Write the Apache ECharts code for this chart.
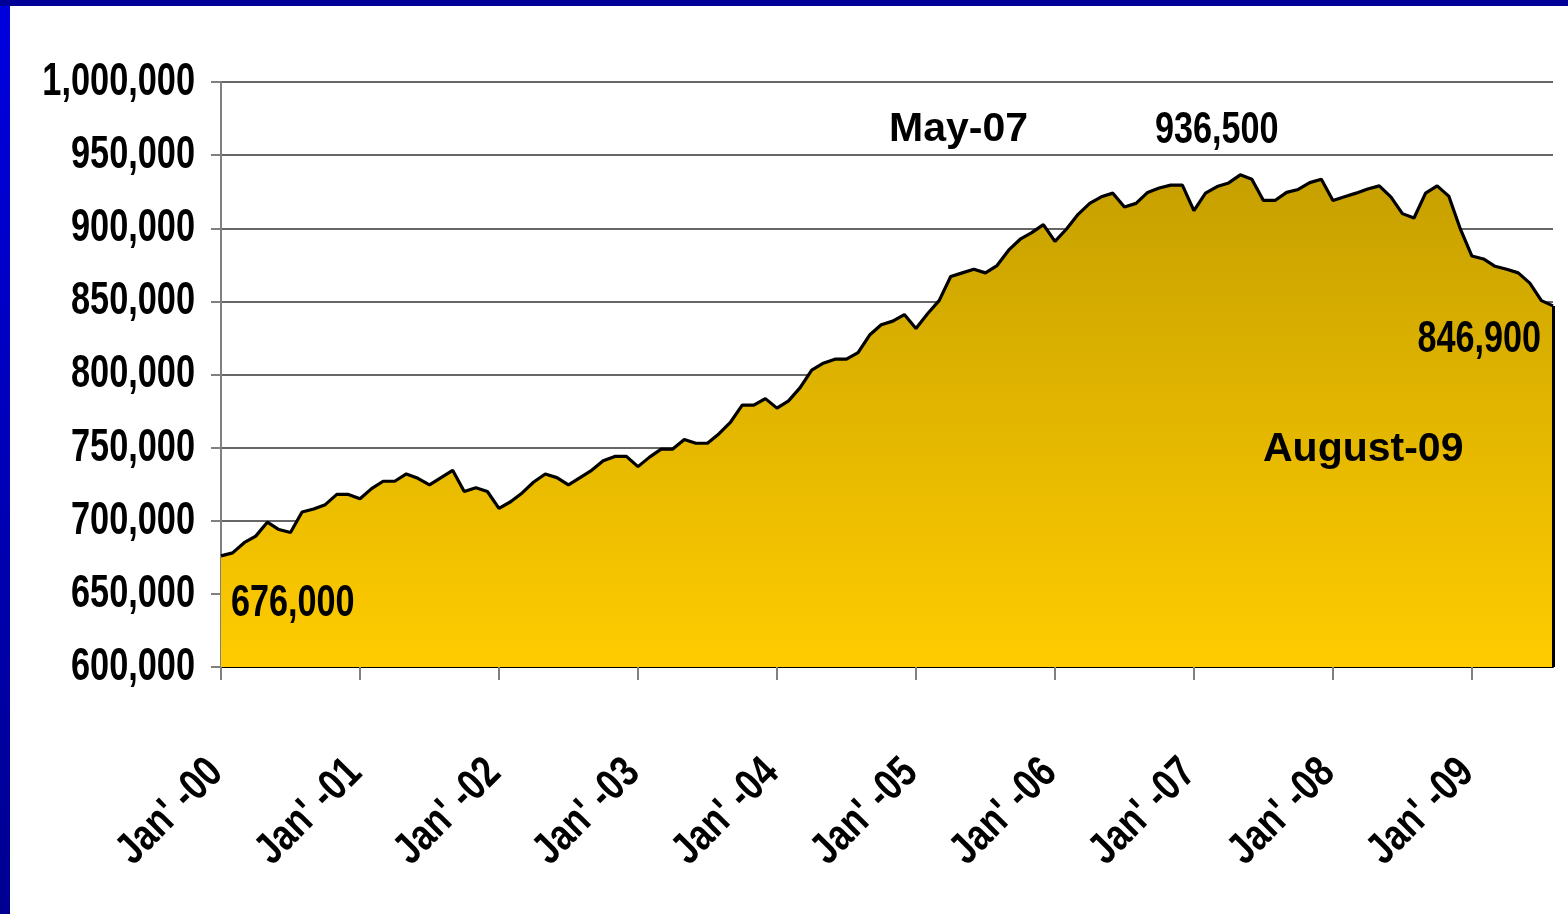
<!DOCTYPE html>
<html>
<head>
<meta charset="utf-8">
<script src="https://cdn.jsdelivr.net/npm/echarts@6/dist/echarts.min.js"></script>
<style>
  html, body { margin: 0; padding: 0; background: #fff; }
  #main { width: 1568px; height: 914px; }
</style>
</head>
<body>
<div id="main"></div>
<script>
  // monthly values, Jan-00 .. Aug-09
  var years = ['00', '01', '02', '03', '04', '05', '06', '07', '08', '09'];
  var months = ['Jan', 'Feb', 'Mar', 'Apr', 'May', 'Jun', 'Jul', 'Aug', 'Sep', 'Oct', 'Nov', 'Dec'];
  var tickLabels = ["Jan' -00", "Jan' -01", "Jan' -02", "Jan' -03", "Jan' -04", "Jan' -05", "Jan' -06", "Jan' -07", "Jan' -08", "Jan' -09"];

  var values = [
    676000, 678000, 685000, 689500, 699000, 694000, 692000, 706000, 708000, 711000, 718000, 718000,
    715000, 722000, 727000, 727000, 732000, 729000, 724500, 729500, 734500, 720000, 722500, 720000,
    708500, 713000, 719000, 726500, 732000, 729500, 724500, 729500, 734500, 741000, 744000, 744000,
    737000, 743500, 749000, 749000, 755500, 753000, 753000, 759500, 767500, 779000, 779000, 783500,
    777000, 782000, 791000, 803000, 807700, 810500, 810500, 815000, 827000, 834000, 836500, 841000,
    831500, 841500, 850500, 867000, 869500, 872000, 869500, 874500, 885000, 892500, 897000, 902500,
    891000, 899500, 909500, 917000, 921500, 924000, 914500, 917000, 924500, 927500, 929500, 929500,
    912000, 924000, 928500, 931000, 936500, 933500, 919000, 919000, 924500, 926500, 931200, 933500,
    919000, 921500, 924000, 926800, 929000, 921500, 910000, 907000, 924000, 929000, 922000, 899500,
    881000, 879000, 874000, 872000, 869500, 862500, 850500, 846900
  ];

  var yTicks = [600000, 650000, 700000, 750000, 800000, 850000, 900000, 950000, 1000000];

  var categories = [];
  years.forEach(function (y) {
    months.forEach(function (m) { categories.push(m + '-' + y); });
  });
  categories = categories.slice(0, values.length);

  var font = "'Liberation Sans', Arial, sans-serif";
  var fmt = function (v) { return Number(v).toLocaleString('en-US'); };

  var peakIdx = values.indexOf(Math.max.apply(null, values));
  var lastIdx = values.length - 1;

  var myChart = echarts.init(document.getElementById('main'));
  myChart.setOption({
    backgroundColor: '#ffffff',
    animation: false,
    grid: { left: 221, right: 15, top: 82, bottom: 247, outerBoundsMode: 'none', containLabel: false },
    xAxis: {
      type: 'category',
      data: categories,
      boundaryGap: false,
      axisLine: { lineStyle: { color: '#000', width: 2 } },
      axisTick: { interval: 11, length: 13, lineStyle: { color: '#808080', width: 2 } },
      axisLabel: { show: false, interval: 11 }
    },
    yAxis: {
      type: 'value',
      min: yTicks[0],
      max: yTicks[yTicks.length - 1],
      interval: 50000,
      axisLine: { show: true, lineStyle: { color: '#808080', width: 2 } },
      axisTick: { show: true, inside: false, length: 10, lineStyle: { color: '#808080', width: 2 } },
      splitLine: { lineStyle: { color: '#333', width: 1.5 } },
      axisLabel: { show: false }
    },
    series: [{
      type: 'line',
      data: values,
      symbol: 'none',
      lineStyle: { color: '#000', width: 3.2 },
      areaStyle: {
        opacity: 1,
        color: new echarts.graphic.LinearGradient(0, 0, 0, 1, [
          { offset: 0, color: '#C6A000' },
          { offset: 1, color: '#FFCC00' }
        ])
      },
      markLine: {
        silent: true,
        symbol: 'none',
        label: { show: false },
        lineStyle: { color: '#000', width: 3, type: 'solid' },
        data: [[
          { coord: [lastIdx, yTicks[0]] },
          { coord: [lastIdx, values[lastIdx]] }
        ]]
      }
    }]
  });

  // narrow bold labels (Arial Narrow look): scaled text placed via the chart's own scales
  var graphics = [
    {
      type: 'rect', x: 0, y: 0, z: 100,
      shape: { width: 10, height: 914 },
      style: { fill: new echarts.graphic.LinearGradient(0, 0, 0, 1, [
        { offset: 0, color: '#0000E0' }, { offset: 1, color: '#000090' }
      ]) }
    },
    {
      type: 'rect', x: 0, y: 0, z: 101,
      shape: { width: 1568, height: 6 },
      style: { fill: '#000099' }
    }
  ];

  yTicks.forEach(function (v) {
    var py = myChart.convertToPixel({ yAxisIndex: 0 }, v);
    graphics.push({
      type: 'text', x: 195, y: py, scaleX: 0.73, z: 50,
      style: { text: fmt(v), font: 'bold 47px ' + font, fill: '#000', align: 'right', verticalAlign: 'middle' }
    });
  });

  tickLabels.forEach(function (t, i) {
    var px = myChart.convertToPixel({ xAxisIndex: 0 }, categories[i * 12]);
    graphics.push({
      type: 'text', x: px - 5, y: 766, rotation: Math.PI / 4, scaleX: 0.8, z: 50,
      style: { text: t, font: 'bold 44px ' + font, fill: '#000', align: 'right', verticalAlign: 'middle' }
    });
  });

  graphics.push(
    {
      type: 'text', x: 231, y: 604, scaleX: 0.76, z: 50,
      style: { text: fmt(values[0]), font: 'bold 45px ' + font, fill: '#000', align: 'left', verticalAlign: 'middle' }
    },
    {
      type: 'text', x: 889, y: 130, z: 50,
      style: { text: categories[peakIdx], font: 'bold 41px ' + font, fill: '#000', align: 'left', verticalAlign: 'middle' }
    },
    {
      type: 'text', x: 1155, y: 131, scaleX: 0.76, z: 50,
      style: { text: fmt(values[peakIdx]), font: 'bold 45px ' + font, fill: '#000', align: 'left', verticalAlign: 'middle' }
    },
    {
      type: 'text', x: 1541, y: 340, scaleX: 0.76, z: 50,
      style: { text: fmt(values[lastIdx]), font: 'bold 45px ' + font, fill: '#000', align: 'right', verticalAlign: 'middle' }
    },
    {
      type: 'text', x: 1263, y: 450, z: 50,
      style: { text: 'August-09', font: 'bold 41px ' + font, fill: '#000', align: 'left', verticalAlign: 'middle' }
    }
  );

  myChart.setOption({ graphic: graphics });
</script>
</body>
</html>
